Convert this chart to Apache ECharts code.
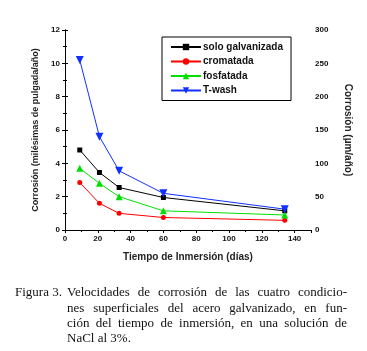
<!DOCTYPE html>
<html><head><meta charset="utf-8">
<script src="https://cdn.jsdelivr.net/npm/echarts@6/dist/echarts.min.js"></script>
<style>
html,body{margin:0;padding:0;background:#fff;}
#chart{position:absolute;left:0;top:0;width:367px;height:351px;}
.cap{position:absolute;font-family:"Liberation Serif","Times New Roman",serif;font-size:13px;color:#111;line-height:15px;white-space:nowrap;}
.j{width:280px;text-align:justify;text-align-last:justify;white-space:normal;}
</style>
</head><body>
<div id="chart"></div>
<div class="cap" style="left:15px;top:284px;">Figura 3.</div>
<div class="cap j" style="left:67px;top:284px;">Velocidades de corrosión de las cuatro condicio-</div>
<div class="cap j" style="left:67px;top:299.5px;">nes superficiales del acero galvanizado, en fun-</div>
<div class="cap j" style="left:67px;top:314.5px;">ción del tiempo de inmersión, en una solución de</div>
<div class="cap" style="left:67px;top:329.5px;">NaCl al 3%.</div>
<script>
const days = [9, 21, 33, 60, 134];
const seriesNames = ['solo galvanizada', 'cromatada', 'fosfatada', 'T-wash'];
const soloGalvanizada = [4.8, 3.45, 2.55, 1.95, 1.15];
const cromatada = [2.85, 1.6, 1.0, 0.75, 0.58];
const fosfatada = [3.7, 2.8, 2.0, 1.15, 0.9];
const tWash = [10.2, 5.6, 3.55, 2.2, 1.25];
const xTitle = 'Tiempo de Inmersión (días)';
const yLeftTitle = 'Corrosión (milésimas de pulgada/año)';
const yRightTitle = 'Corrosión (µm/año)';

const chart = echarts.init(document.getElementById('chart'));
const lab = {fontFamily: 'Liberation Sans, Arial', fontWeight: 'bold', fontSize: 8, color: '#111'};
const axLine = {show: true, lineStyle: {color: '#000', width: 1}};
function pairs(vals){ return days.map((d,i)=>[d, vals[i]]); }
const mk = (name, vals, color, symbol, size, rot) => ({
  name, type: 'line', data: pairs(vals), symbol, symbolSize: size, symbolRotate: rot || 0,
  lineStyle: {color, width: 1}, itemStyle: {color}, xAxisIndex: 0, yAxisIndex: 0
});
chart.setOption({
  animation: false,
  grid: {left: 65, right: 56, top: 30, bottom: 121},
  legend: {
    orient: 'vertical', left: 162, top: 37,
    data: seriesNames,
    borderColor: '#000', borderWidth: 1, padding: [5, 8, 5, 8],
    itemWidth: 30, itemHeight: 8, itemGap: 4.5,
    textStyle: {fontFamily: 'Liberation Sans, Arial', fontWeight: 'bold', fontSize: 10, color: '#111', padding: [0,0,0,-3]}
  },
  xAxis: [
    {type: 'value', min: 0, max: 150, interval: 20, position: 'bottom',
     name: xTitle, nameLocation: 'middle', nameGap: 22,
     nameTextStyle: {fontFamily: 'Liberation Sans, Arial', fontWeight: 'bold', fontSize: 10, color: '#222'},
     axisLine: axLine, axisTick: {show: true, length: 3, lineStyle: {color: '#000'}},
     minorTick: {show: true, splitNumber: 2, length: 2, lineStyle: {color: '#000'}},
     axisLabel: Object.assign({margin: 5, showMaxLabel: false}, lab), splitLine: {show: false}},
    {type: 'value', min: 0, max: 150, interval: 20, position: 'top',
     axisLine: axLine, axisTick: {show: true, inside: true, length: 3, lineStyle: {color: '#000'}},
     minorTick: {show: true, splitNumber: 2, length: 2, lineStyle: {color: '#000'}},
     axisLabel: {show: false}, splitLine: {show: false}}
  ],
  yAxis: [
    {type: 'value', min: 0, max: 12, interval: 2, position: 'left',
     name: yLeftTitle, nameLocation: 'middle', nameGap: 18, nameRotate: 90,
     nameTextStyle: {fontFamily: 'Liberation Sans, Arial', fontWeight: 'bold', fontSize: 9, color: '#222'},
     axisLine: axLine, axisTick: {show: true, length: 3, lineStyle: {color: '#000'}},
     minorTick: {show: true, splitNumber: 2, length: 2, lineStyle: {color: '#000'}},
     axisLabel: Object.assign({margin: 5}, lab), splitLine: {show: false}},
    {type: 'value', min: 0, max: 300, interval: 50, position: 'right',
     name: yRightTitle, nameLocation: 'middle', nameGap: 32, nameRotate: -90,
     nameTextStyle: {fontFamily: 'Liberation Sans, Arial', fontWeight: 'bold', fontSize: 10, color: '#222'},
     axisLine: axLine, axisTick: {show: true, length: 3, lineStyle: {color: '#000'}},
     minorTick: {show: true, splitNumber: 2, length: 2, lineStyle: {color: '#000'}},
     axisLabel: Object.assign({margin: 4}, lab), splitLine: {show: false}}
  ],
  series: [
    mk(seriesNames[0], soloGalvanizada, '#000000', 'rect', 5),
    mk(seriesNames[1], cromatada, '#ff0000', 'circle', 5),
    mk(seriesNames[2], fosfatada, '#00e000', 'triangle', 7),
    mk(seriesNames[3], tWash, '#1030ff', 'triangle', 8, 180)
  ]
});
</script>
</body></html>
